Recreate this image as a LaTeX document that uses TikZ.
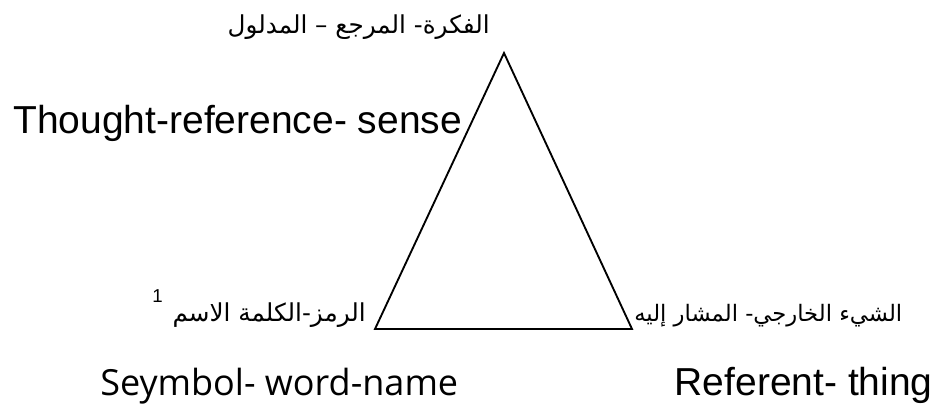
\documentclass[tikz,border=0pt]{standalone}
\usepackage{fontspec}
\setmainfont{Liberation Sans}
\newfontfamily\arabicfont[Script=Arabic]{DejaVu Sans}
\newfontfamily\symfont{Open Sans}
\TeXXeTstate=1
\tikzset{
  edge/.style={line width=1.4pt, line join=miter},
  arlbl/.style={inner sep=0pt, font=\arabicfont\fontsize{18.5pt}{22pt}\selectfont},
  arlblsm/.style={inner sep=0pt, font=\arabicfont\fontsize{17pt}{20pt}\selectfont},
  enlbl/.style={inner sep=0pt, font=\fontsize{29.25pt}{34pt}\selectfont},
  symlbl/.style={inner sep=0pt, font=\symfont\fontsize{27pt}{32pt}\selectfont},
}
\begin{document}
\begin{tikzpicture}[x=0.75pt,y=-0.75pt]
\useasboundingbox (0,0) rectangle (936,408);
\coordinate (A) at (504,53);
\coordinate (B) at (375,329);
\coordinate (C) at (632,329);
\draw[edge] (A) -- (B) -- (C) -- cycle;

\node[arlbl, anchor=base east] (top) at (490,33) {\beginR الفكرة- المرجع – المدلول\endR};
\node[enlbl, anchor=base west] (thought) at (13,133) {Thought-reference- sense};
\node[arlbl, anchor=base east] (sym) at (366,321) {\beginR الرمز-الكلمة الاسم\endR};
\node[inner sep=0pt, anchor=base east, font=\fontsize{14pt}{16pt}\selectfont] (fn) at ([xshift=-7pt,yshift=14pt]sym.base west) {1};
\node[arlblsm, anchor=base west] (ref) at (634,321) {\beginR الشيء الخارجي- المشار إليه\endR};
\node[symlbl, anchor=base west] (seym) at (100,395) {Seymbol- word-name};
\node[enlbl, anchor=base east] (thing) at (933,395) {Referent- thing};
\end{tikzpicture}
\end{document}
